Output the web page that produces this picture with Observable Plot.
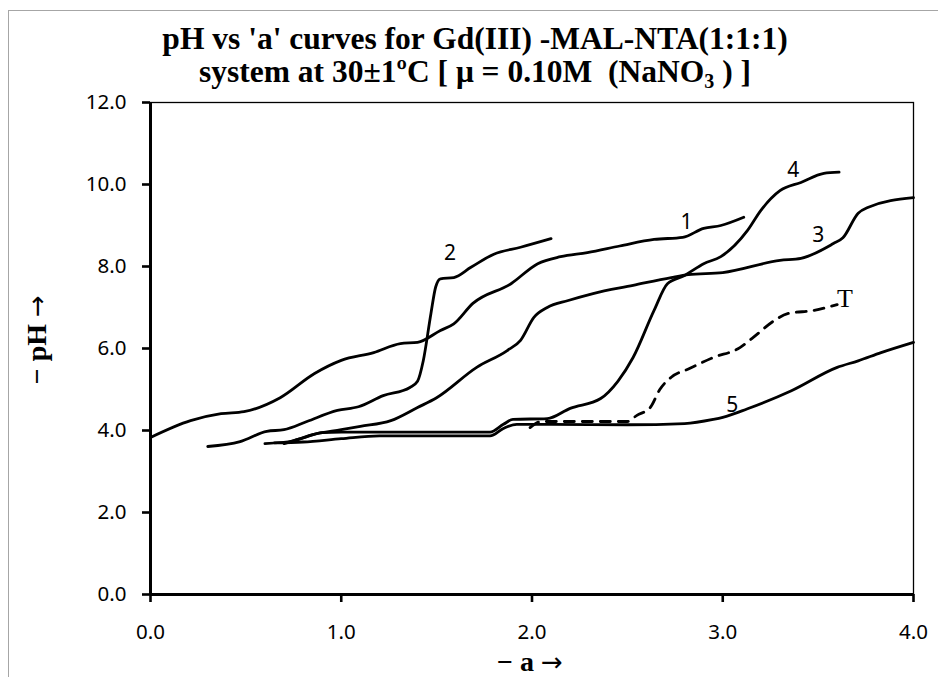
<!DOCTYPE html>
<html>
<head>
<meta charset="utf-8">
<script src="https://cdn.jsdelivr.net/npm/d3@7"></script>
<script src="https://cdn.jsdelivr.net/npm/@observablehq/plot@0.6"></script>
<style>
  html, body { margin: 0; padding: 0; background: #fff; }
  #wrap { position: relative; width: 938px; height: 677px; overflow: hidden; background: #fff; }
  #border { position: absolute; left: 8px; top: 10px; width: 960px; height: 700px; border: 1.5px solid #a6a6a6; box-sizing: border-box; }
  #chart { position: absolute; left: 0; top: 0; }
  .title { position: absolute; left: 0; width: 950px; text-align: center; font-family: "Liberation Serif", "Times New Roman", serif; font-weight: bold; font-size: 31.5px; color: #000; white-space: pre; line-height: 1; }
  .title sub { font-size: 20px; vertical-align: -6px; line-height: 0; }
  .axtitle { position: absolute; font-family: "Liberation Serif", "Times New Roman", serif; font-weight: bold; font-size: 28px; color: #000; white-space: pre; line-height: 0.9; }
  .arr { font-family: "DejaVu Sans", sans-serif; font-weight: normal; font-size: 26px; }
</style>
</head>
<body>
<div id="wrap">
  <div id="border"></div>
  <div id="chart"></div>
  <div class="title" id="t1" style="top:23px;">pH vs 'a' curves for Gd(III) -MAL-NTA(1:1:1)</div>
  <div class="title" id="t2" style="top:56px;">system at 30±1ºC [ μ = 0.10M  (NaNO<sub>3</sub> ) ]</div>
  <div class="axtitle" id="ylab">− pH <span class="arr">→</span></div>
  <div class="axtitle" id="xlab">− a <span class="arr">→</span></div>
</div>
<script>
// ---- data ----
const xTicks = [0, 1, 2, 3, 4];
const yTicks = [0, 2, 4, 6, 8, 10, 12];

const a1  = [0, 0.21, 0.37, 0.49, 0.68, 0.86, 1.0, 1.17, 1.31, 1.40, 1.52, 1.59, 1.69, 1.89, 2.03, 2.15, 2.29, 2.46, 2.64, 2.79, 2.90, 2.99, 3.11];
const pH1 = [3.83, 4.24, 4.41, 4.46, 4.80, 5.39, 5.71, 5.90, 6.12, 6.15, 6.44, 6.60, 7.10, 7.58, 8.07, 8.24, 8.34, 8.50, 8.66, 8.71, 8.93, 9.00, 9.20];

const a2  = [0.30, 0.47, 0.61, 0.70, 0.82, 0.98, 1.09, 1.22, 1.36, 1.40, 1.43, 1.47, 1.495, 1.52, 1.59, 1.68, 1.80, 1.94, 2.10];
const pH2 = [3.61, 3.73, 3.98, 4.02, 4.22, 4.49, 4.58, 4.85, 5.05, 5.20, 5.70, 6.85, 7.50, 7.70, 7.73, 7.98, 8.30, 8.47, 8.68];

const a3  = [0.60, 0.75, 0.85, 1.0, 1.1, 1.26, 1.40, 1.50, 1.71, 1.87, 1.94, 2.01, 2.08, 2.19, 2.32, 2.53, 2.73, 2.82, 3.0, 3.30, 3.41, 3.58, 3.63, 3.71, 3.76, 4.0];
const pH3 = [3.68, 3.75, 3.90, 4.02, 4.10, 4.24, 4.56, 4.80, 5.54, 5.95, 6.20, 6.76, 7.00, 7.17, 7.34, 7.54, 7.73, 7.80, 7.85, 8.15, 8.20, 8.56, 8.70, 9.30, 9.44, 9.68];

const a4  = [0.70, 0.80, 0.90, 1.0, 1.78, 1.85, 1.90, 2.08, 2.20, 2.36, 2.45, 2.53, 2.64, 2.71, 2.80, 2.90, 2.99, 3.13, 3.20, 3.30, 3.41, 3.53, 3.61];
const pH4 = [3.68, 3.82, 3.95, 3.96, 3.96, 4.15, 4.27, 4.29, 4.54, 4.78, 5.20, 5.78, 6.93, 7.58, 7.78, 8.07, 8.24, 8.88, 9.37, 9.85, 10.05, 10.27, 10.30];

const a5  = [0.65, 0.80, 1.0, 1.2, 1.78, 1.85, 1.92, 2.1, 2.5, 2.8, 2.95, 3.0, 3.13, 3.36, 3.60, 3.71, 3.83, 4.0];
const pH5 = [3.70, 3.72, 3.80, 3.87, 3.87, 4.05, 4.15, 4.15, 4.14, 4.17, 4.27, 4.32, 4.53, 4.97, 5.54, 5.70, 5.90, 6.15];

const aT  = [1.99, 2.05, 2.30, 2.50, 2.55, 2.62, 2.67, 2.73, 2.82, 2.95, 3.09, 3.16, 3.27, 3.34, 3.48, 3.60];
const pHT = [4.07, 4.22, 4.22, 4.22, 4.37, 4.56, 5.00, 5.30, 5.50, 5.78, 6.02, 6.27, 6.68, 6.85, 6.93, 7.07];

const curveNames = ["1", "2", "3", "4", "5"];
const labelA  = [2.81, 1.57, 3.50, 3.37, 3.05];
const labelPH = [9.07, 8.32, 8.76, 10.34, 4.61];
const tLabel = {name: "T", a: 3.64, pH: 7.22};

// ---- build tables ----
const solidSeries = [[a1, pH1], [a2, pH2], [a3, pH3], [a4, pH4], [a5, pH5]];
const solid = solidSeries.flatMap(([xs, ys], i) => xs.map((x, j) => ({series: curveNames[i], a: x, pH: ys[j]})));
const dashed = aT.map((x, j) => ({series: "T", a: x, pH: pHT[j]}));
const labels = curveNames.map((n, i) => ({name: n, a: labelA[i], pH: labelPH[i]}));

const fmt = d3.format(".1f");

const chart = Plot.plot({
  width: 938,
  height: 677,
  marginTop: 102,
  marginLeft: 150,
  marginRight: 25,
  marginBottom: 83,
  x: {domain: [0, 4]},
  y: {domain: [0, 12]},
  style: {fontFamily: "'Noto Sans', sans-serif", fontSize: "20.5px", color: "#000", background: "transparent", overflow: "visible"},
  marks: [
    Plot.frame({stroke: "#000", strokeWidth: 1.3}),
    Plot.axisX({ticks: xTicks, tickFormat: fmt, tickSize: 8, tickPadding: 22, strokeWidth: 2.6, label: null}),
    Plot.axisY({ticks: yTicks, tickFormat: fmt, tickSize: 8, tickPadding: 16, strokeWidth: 2.6, label: null}),
    Plot.ruleX([0], {stroke: "#000", strokeWidth: 3}),
    Plot.ruleY([0], {stroke: "#000", strokeWidth: 3}),
    Plot.line(solid, {x: "a", y: "pH", z: "series", stroke: "#000", strokeWidth: 2.8, curve: "monotone-x"}),
    Plot.line(dashed, {x: "a", y: "pH", stroke: "#000", strokeWidth: 2.8, strokeDasharray: "10,8", curve: "monotone-x"}),
    Plot.text(labels, {x: "a", y: "pH", text: "name", fontSize: 21, fill: "#000"}),
    Plot.text([tLabel], {x: "a", y: "pH", text: "name", fontSize: 26, fill: "#000", fontFamily: "'Liberation Serif', serif"})
  ]
});
document.getElementById("chart").appendChild(chart);

// axis titles placement
const ylab = document.getElementById("ylab");
ylab.style.left = "0px"; ylab.style.top = "0px";
const yr = ylab.getBoundingClientRect();
ylab.style.transformOrigin = "center center";
ylab.style.left = (37 - yr.width / 2) + "px";
ylab.style.top = (340 - yr.height / 2) + "px";
ylab.style.transform = "rotate(-90deg)";
const xlab = document.getElementById("xlab");
const xr = xlab.getBoundingClientRect();
xlab.style.left = (530 - xr.width / 2) + "px";
xlab.style.top = (662 - xr.height / 2) + "px";
</script>
</body>
</html>
